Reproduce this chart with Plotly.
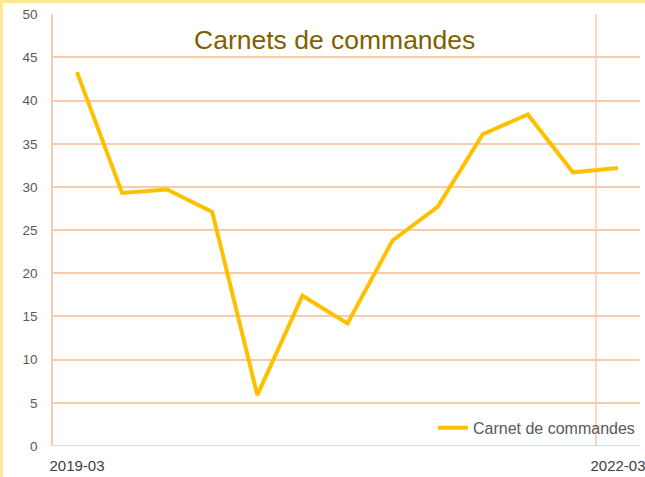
import plotly.graph_objects as go

# Quarterly order-book balance, March 2019 to March 2022
quarters = ["2019-03", "2019-06", "2019-09", "2019-12", "2020-03", "2020-06", "2020-09",
            "2020-12", "2021-03", "2021-06", "2021-09", "2021-12", "2022-03"]
carnet = [43.3, 29.3, 29.7, 27.1, 5.9, 17.4, 14.2, 23.8, 27.7, 36.1, 38.4, 31.7, 32.2]
x_labels = ["2019-03", "2022-03"]

idx = list(range(len(quarters)))

GRID = "#F8CBAD"
AXIS_BLUE = "#BDD7EE"
LINE = "#FFC000"

fig = go.Figure()
fig.add_trace(go.Scatter(
    x=idx, y=carnet, mode="lines", name="Carnet de commandes",
    line=dict(color=LINE, width=4), customdata=quarters,
    hovertemplate="%{customdata}: %{y}<extra></extra>",
))

fig.update_layout(
    width=645, height=477,
    margin=dict(l=53, r=5, t=14, b=31),
    paper_bgcolor="white", plot_bgcolor="white",
    font=dict(family="Liberation Sans, Arial, sans-serif", color="#595959"),
    showlegend=True,
    legend=dict(x=1.0, y=0.042, xanchor="right", yanchor="middle",
                bgcolor="rgba(0,0,0,0)", font=dict(size=16, color="#595959")),
    xaxis=dict(range=[-0.532, 12.488], tickvals=[0, len(quarters) - 1], ticktext=x_labels,
               showgrid=False, zeroline=False, showline=False, ticks="",
               automargin=False, ticklabelstandoff=9, ticklabeloverflow="allow",
               tickfont=dict(size=15, color="#404040")),
    yaxis=dict(range=[0, 50.03], dtick=5, showgrid=True, gridcolor=GRID, gridwidth=1.5,
               zeroline=False, showline=True, linecolor=GRID, linewidth=1.5, ticks="",
               automargin=False, ticklabelstandoff=11, ticklabeloverflow="allow",
               tickfont=dict(size=13.5, color="#595959")),
    annotations=[dict(text="Carnets de commandes", x=0.48, y=0.94, xref="paper", yref="paper",
                      xanchor="center", yanchor="middle", showarrow=False,
                      font=dict(size=26.5, color="#7F6000"))],
)

# vertical guide before the last quarter, x axis line, small axis stubs and outer frame
fig.add_shape(type="line", xref="x", yref="y", x0=11.51, x1=11.51, y0=0, y1=50,
              line=dict(color=GRID, width=1.5), layer="below")
fig.add_shape(type="line", xref="paper", yref="y", x0=0, x1=1, y0=0, y1=0,
              line=dict(color=AXIS_BLUE, width=1.5))
for xs in (-0.532, 11.51):
    fig.add_shape(type="line", xref="x", yref="y", x0=xs, x1=xs, y0=0, y1=-0.6,
                  line=dict(color=AXIS_BLUE, width=1.5))
fig.add_shape(type="rect", xref="paper", yref="paper", x0=-0.0877, x1=1.3, y0=-0.3, y1=1.029,
              line=dict(color="#FFE699", width=3))

fig.write_html("out.html")
